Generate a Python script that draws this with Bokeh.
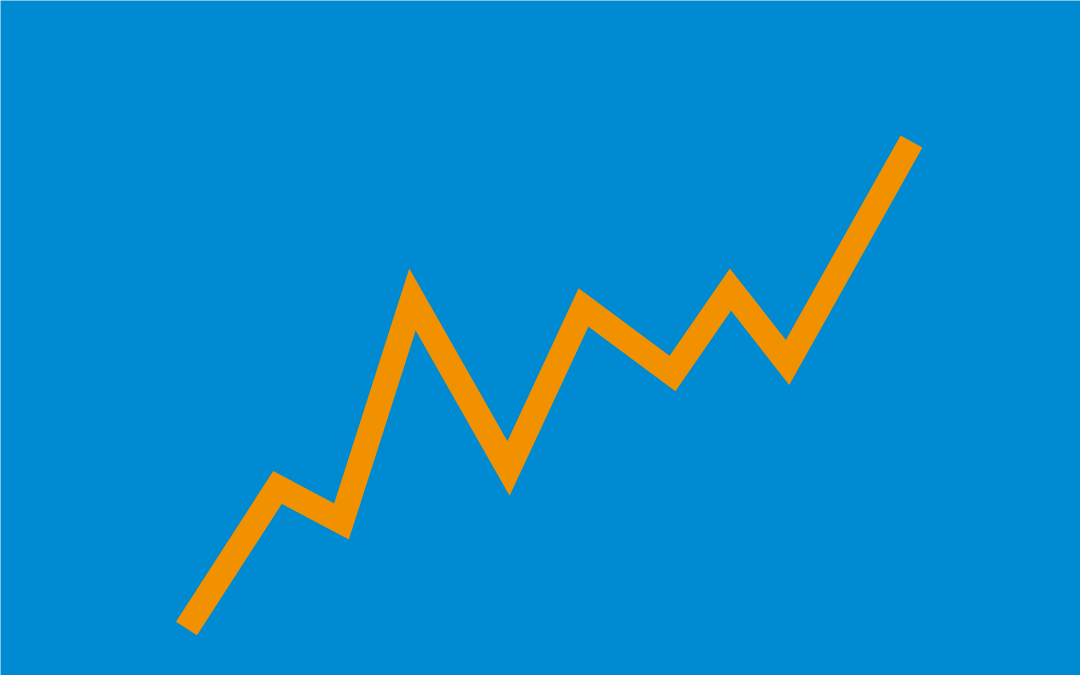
from bokeh.plotting import figure
from bokeh.models import Range1d
from bokeh.embed import file_html
from bokeh.resources import INLINE

# Series (x position, value)
x_vals = [186, 277, 341, 412, 508, 583, 672, 730, 787, 911]
y_vals = [47, 188, 154, 376, 207, 368, 302, 386, 313, 534]

BLUE = "#008AD2"
ORANGE = "#F29100"

p = figure(width=1080, height=675, output_backend="svg", toolbar_location=None,
           x_range=Range1d(0, 1080), y_range=Range1d(0, 675),
           min_border=0, min_border_left=0, min_border_right=0,
           min_border_top=0, min_border_bottom=0)
p.axis.visible = False
p.grid.visible = False
p.outline_line_color = None
p.background_fill_color = BLUE
p.border_fill_color = BLUE

p.line(x_vals, y_vals, line_color=ORANGE, line_width=25,
       line_join="miter", line_cap="butt")

open("out.html", "w").write(file_html(p, INLINE))
